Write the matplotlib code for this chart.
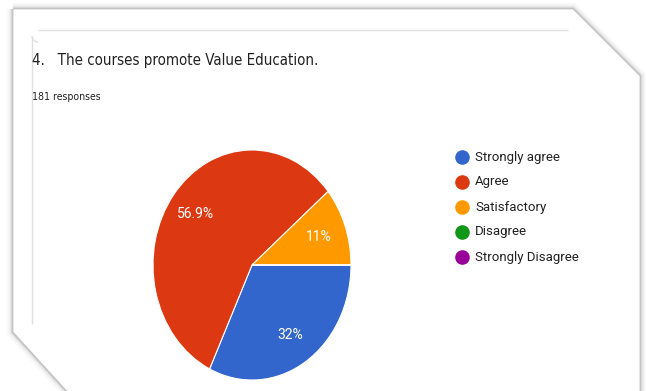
import matplotlib
matplotlib.use("Agg")
import matplotlib.pyplot as plt
from matplotlib.patches import Polygon, Arc

# data (181 responses)
categories = ["Strongly agree", "Agree", "Satisfactory", "Disagree", "Strongly Disagree"]
counts = [58, 103, 20, 0, 0]
colors = ["#3366cc", "#dc3912", "#ff9900", "#109618", "#990099"]
title = "4.   The courses promote Value Education."
subtitle = "181 responses"

W, H = 646, 391
plt.rcParams["font.family"] = ["Roboto", "DejaVu Sans"]
fig = plt.figure(figsize=(W / 100, H / 100), dpi=100, facecolor="white")

# pixel-space axes for the card, text and legend
bg = fig.add_axes([0, 0, 1, 1])
bg.set_xlim(0, W); bg.set_ylim(H, 0); bg.axis("off")

card = [(13, 9), (573, 9), (640, 76), (640, H + 8), (74, H + 8), (13, 332)]
for lw, a in [(9, 0.035), (6, 0.06), (3.5, 0.1), (1.8, 0.2)]:
    bg.add_patch(Polygon(card, closed=True, fill=False, edgecolor="#555555",
                         lw=lw, alpha=a, joinstyle="miter"))
bg.add_patch(Polygon(card, closed=True, facecolor="white", edgecolor="#c4c4c4", lw=0.6))

# inner form card outline (top and left edges only)
r = 6
bg.plot([32 + r, 568], [30, 30], color="#e0e0e0", lw=1.0, solid_capstyle="butt")
bg.plot([32, 32], [30 + r, 324], color="#e0e0e0", lw=1.0, solid_capstyle="butt")
bg.add_patch(Arc((32 + r, 30 + r), 2 * r, 2 * r, theta1=90, theta2=180,
                 color="#e0e0e0", lw=1.0))

bg.text(32, 61, title, fontsize=10.8, color="#212121", va="center", ha="left",
        family="DejaVu Sans", stretch="condensed")
bg.text(32, 97, subtitle, fontsize=7.6, color="#212121", va="center", ha="left",
        family="DejaVu Sans", stretch="condensed")

# legend
for i, (lab, c) in enumerate(zip(categories, colors)):
    y = 157 + i * 25
    bg.plot(462, y, "o", ms=10.5, color=c, mec="none")
    bg.text(475, y, lab, fontsize=9.5, color="#222222", va="center", ha="left")

# pie (slightly taller than wide, as in the screenshot)
cx, cy, rx, ry = 252, 265, 99, 115
pax = fig.add_axes([(cx - rx) / W, (H - cy - ry) / H, 2 * rx / W, 2 * ry / H])


def pct(p):
    if p < 0.5:
        return ""
    s = f"{p:.1f}"
    return s[:-2] + "%" if s.endswith(".0") else s + "%"


wedges, texts, autotexts = pax.pie(counts, colors=colors, startangle=0, counterclock=False,
                                   autopct=pct, pctdistance=0.72, radius=1,
                                   wedgeprops={"edgecolor": "white", "linewidth": 0.8})
for t in autotexts:
    t.set_color("white")
    t.set_fontsize(10)
pax.set_aspect("auto")
pax.set_xlim(-1, 1); pax.set_ylim(-1, 1)
pax.axis("off")

fig.savefig("out.png", dpi=100, facecolor="white")
